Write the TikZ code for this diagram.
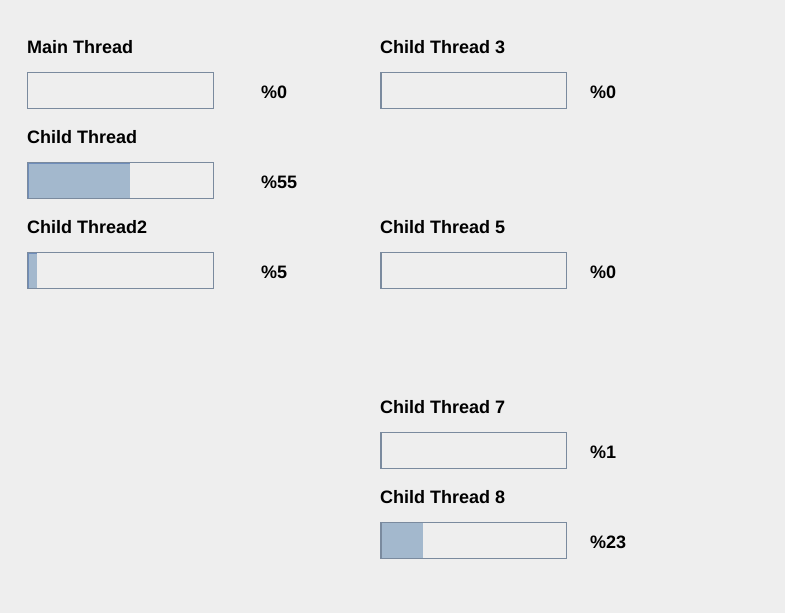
\documentclass[tikz,border=0pt]{standalone}
\usepackage{fontspec}
\setmainfont{Liberation Sans}
\usetikzlibrary{positioning}

\definecolor{panel}{HTML}{EEEEEE}
\definecolor{frame}{HTML}{7A8A9E}
\definecolor{levelblue}{HTML}{A3B8CD}
\definecolor{rimblue}{HTML}{6F8DBA}

\tikzset{
	threadlabel/.style={anchor=base west, font=\bfseries\fontsize{18}{20}\selectfont, inner sep=0pt},
	pct/.style={anchor=base west, font=\bfseries\fontsize{18}{20}\selectfont, inner sep=0pt},
	bar/.style={draw=frame, line width=1pt, fill=panel, minimum width=186pt, minimum height=36pt, inner sep=0pt, outer sep=0pt, anchor=north west},
	levelfill/.style={fill=levelblue},
	fillrim/.style={draw=rimblue, line width=1pt},
	leftrim/.style={draw=frame, line width=1.5pt},
}

\begin{document}
\begin{tikzpicture}[x=1pt, y=-1pt]
				\fill[panel] (0,0) rectangle (785,613);
				\useasboundingbox (0,0) rectangle (785,613);
				
				% left column
				\node[threadlabel] (L1) at (27,53) {Main Thread};
				\node[bar] (B1) at (27.5,72.5) {};
				\node[pct] (P1) at (261,98) {\%0};
				
				\node[threadlabel] (L2) at (27,143) {Child Thread};
				\node[bar] (B2) at (27.5,162.5) {};
				\fill[levelfill] ([shift={(0.5,0.5)}]B2.north west) rectangle ++(102,35);
				\draw[fillrim] ([shift={(1,35.5)}]B2.north west) |- ([shift={(102,1)}]B2.north west);
				\node[pct] (P2) at (261,188) {\%55};
				
				\node[threadlabel] (L3) at (27,233) {Child Thread2};
				\node[bar] (B3) at (27.5,252.5) {};
				\fill[levelfill] ([shift={(0.5,0.5)}]B3.north west) rectangle ++(9,35);
				\draw[fillrim] ([shift={(1,35.5)}]B3.north west) |- ([shift={(9,1)}]B3.north west);
				\node[pct] (P3) at (261,278) {\%5};
				
				% right column
				\node[threadlabel] (L4) at (380,53) {Child Thread 3};
				\node[bar] (B4) at (380.5,72.5) {};
				\draw[leftrim] ([shift={(1,0)}]B4.north west) -- ([shift={(1,0)}]B4.south west);
				\node[pct] (P4) at (590,98) {\%0};
				
				\node[threadlabel] (L5) at (380,233) {Child Thread 5};
				\node[bar] (B5) at (380.5,252.5) {};
				\draw[leftrim] ([shift={(1,0)}]B5.north west) -- ([shift={(1,0)}]B5.south west);
				\node[pct] (P5) at (590,278) {\%0};
				
				\node[threadlabel] (L7) at (380,413) {Child Thread 7};
				\node[bar] (B7) at (380.5,432.5) {};
				\draw[leftrim] ([shift={(1,0)}]B7.north west) -- ([shift={(1,0)}]B7.south west);
				\node[pct] (P7) at (590,458) {\%1};
				
				\node[threadlabel] (L8) at (380,503) {Child Thread 8};
				\node[bar] (B8) at (380.5,522.5) {};
				\fill[levelfill] ([shift={(0.5,0.5)}]B8.north west) rectangle ++(42,35);
				\draw[leftrim] ([shift={(1,0)}]B8.north west) -- ([shift={(1,0)}]B8.south west);
				\node[pct] (P8) at (590,548) {\%23};
			\end{tikzpicture}
\end{document}
